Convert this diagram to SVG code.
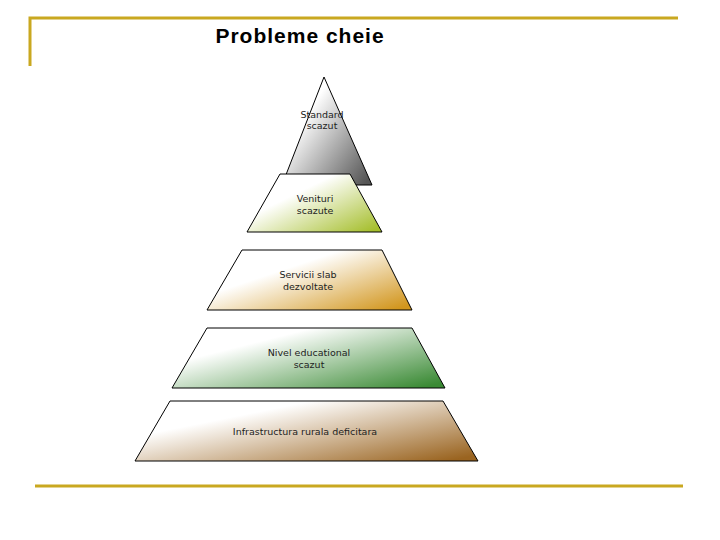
<svg xmlns="http://www.w3.org/2000/svg" width="720" height="540" viewBox="0 0 720 540">
<style>
.t{font-family:"DejaVu Sans",sans-serif;font-size:9.5px;fill:#222;text-anchor:middle}
.s{stroke:#000;stroke-width:1}
.f{stroke:#C9A820;stroke-width:3;fill:none}
</style>
<defs>
<linearGradient id="g1" x1="0.3" y1="0.3" x2="1" y2="0.9"><stop offset="0" stop-color="#fff"/><stop offset="1" stop-color="#555"/></linearGradient>
<linearGradient id="g2" x1="0.2" y1="0.2" x2="1" y2="0.9"><stop offset="0.2" stop-color="#fff"/><stop offset="1" stop-color="#a6bf2e"/></linearGradient>
<linearGradient id="g3" x1="0.2" y1="0.2" x2="1" y2="0.9"><stop offset="0.2" stop-color="#fff"/><stop offset="1" stop-color="#d2961e"/></linearGradient>
<linearGradient id="g4" x1="0.2" y1="0.2" x2="1" y2="0.9"><stop offset="0.1" stop-color="#fff"/><stop offset="1" stop-color="#3a8a34"/></linearGradient>
<linearGradient id="g5" x1="0.2" y1="0.2" x2="1" y2="0.9"><stop offset="0.1" stop-color="#fff"/><stop offset="1" stop-color="#9a6420"/></linearGradient>
</defs>
<path class="f" d="M30,66 V18 H678 M35,486 H683"/>
<text x="300" y="43" font-family="Liberation Sans,sans-serif" font-weight="bold" font-size="21" text-anchor="middle" letter-spacing="1">Probleme cheie</text>
<g id="n1"><polygon class="s" points="324,77 282,185 372,185" fill="url(#g1)"/><text class="t" x="322" y="118">Standard</text><text class="t" x="322" y="129">scazut</text></g>
<g id="n2"><polygon class="s" points="280,174 350,174 382,232 247,232" fill="url(#g2)"/><text class="t" x="315" y="202">Venituri</text><text class="t" x="315" y="214">scazute</text></g>
<g id="n3"><polygon class="s" points="242,250 382,250 412,310 207,310" fill="url(#g3)"/><text class="t" x="308" y="278">Servicii slab</text><text class="t" x="308" y="290">dezvoltate</text></g>
<g id="n4"><polygon class="s" points="207,328 412,328 445,388 172,388" fill="url(#g4)"/><text class="t" x="309" y="356">Nivel educational</text><text class="t" x="309" y="368">scazut</text></g>
<g id="n5"><polygon class="s" points="170,401 443,401 478,461 135,461" fill="url(#g5)"/><text class="t" x="305" y="435">Infrastructura rurala deficitara</text></g>
<g id="connectors"/>
</svg>
